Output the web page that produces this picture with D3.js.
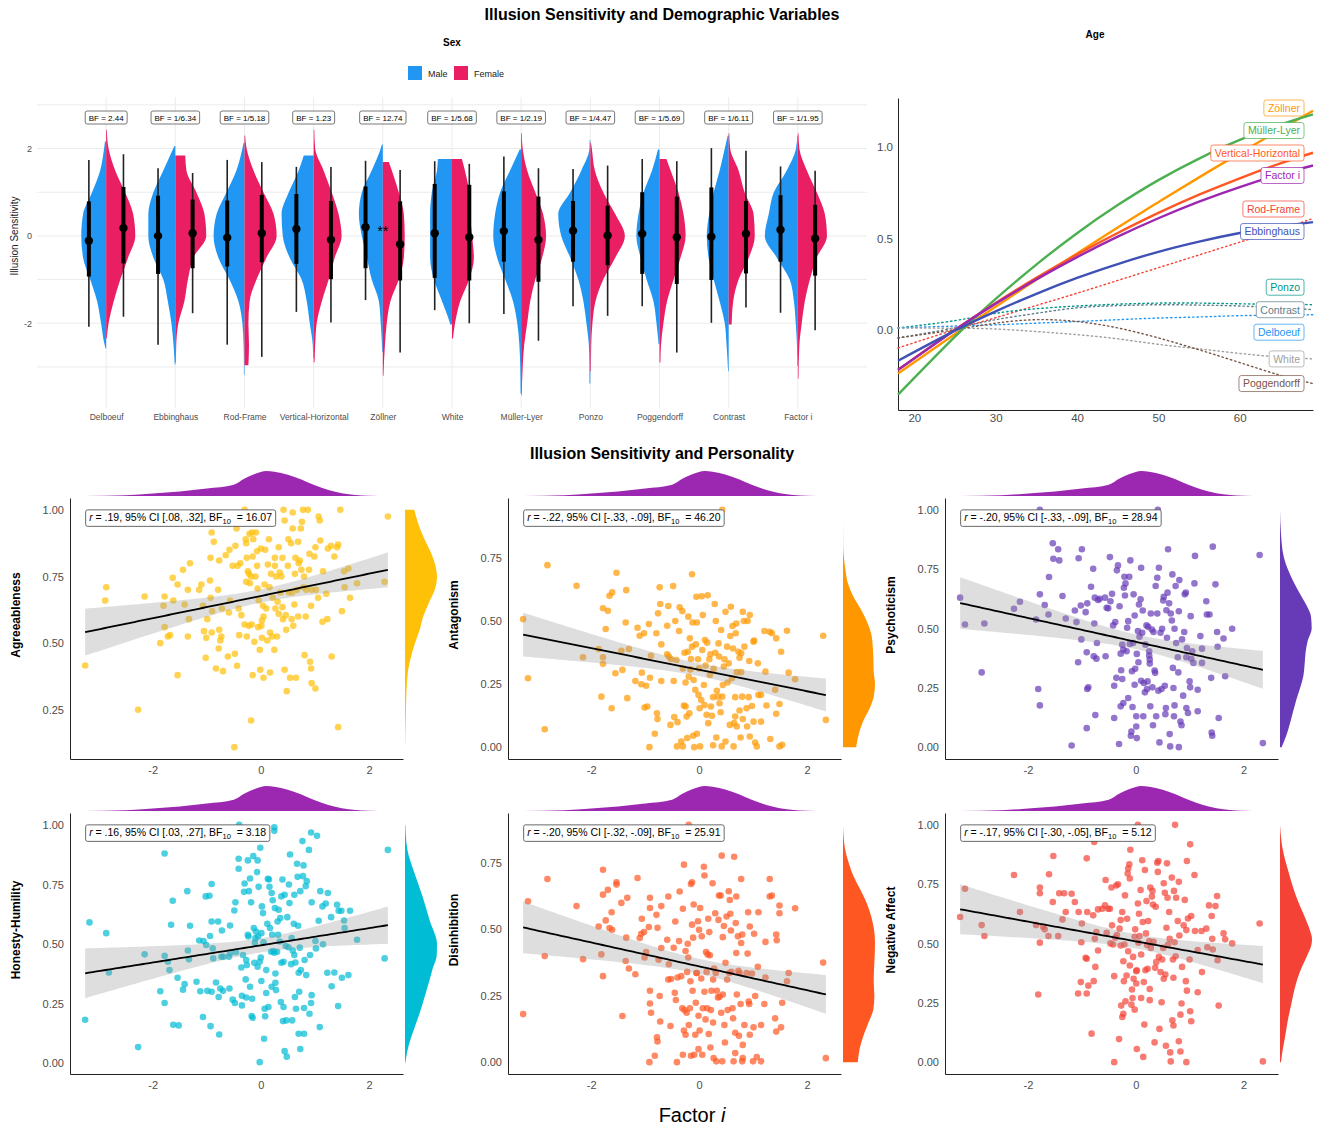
<!DOCTYPE html>
<html lang="en">
<head>
<meta charset="UTF-8">
<title>Illusion Sensitivity</title>
<style>
  body { margin: 0; background: #fff; font-family: "Liberation Sans", Arial, Helvetica, sans-serif; }
  svg { display: block; }
  text { font-family: "Liberation Sans", Arial, Helvetica, sans-serif; }
</style>
</head>
<body>
<svg id="chart" width="1324" height="1126"></svg>
<script src="https://cdn.jsdelivr.net/npm/d3@7"></script>
<script>
// ---------- data: sex differences ----------
const illusions = ['Delboeuf', 'Ebbinghaus', 'Rod-Frame', 'Vertical-Horizontal', 'Zöllner', 'White',
  'Müller-Lyer', 'Ponzo', 'Poggendorff', 'Contrast', 'Factor i'];
const bfLabels = ['BF = 2.44', 'BF = 1/6.34', 'BF = 1/5.18', 'BF = 1.23', 'BF = 12.74', 'BF = 1/5.68',
  'BF = 1/2.19', 'BF = 1/4.47', 'BF = 1/5.69', 'BF = 1/6.11', 'BF = 1/1.95'];
const significance = ['', '', '', '', '**', '', '', '', '', '', ''];

// [min, lower, mean, upper, max]
const maleRange = [
  [-2.08, -0.93, -0.11, 0.79, 1.74], [-2.49, -0.87, 0.0, 0.92, 1.55], [-2.49, -0.7, -0.04, 0.81, 1.74],
  [-1.74, -0.64, 0.16, 0.96, 1.58], [-1.47, -0.74, 0.2, 1.13, 1.72], [-1.7, -0.96, 0.06, 1.19, 1.71],
  [-1.79, -0.59, 0.11, 1.02, 1.82], [-1.61, -0.59, 0.12, 0.8, 1.53], [-1.61, -0.87, 0.05, 1.0, 1.76],
  [-1.99, -1.01, -0.02, 1.11, 2.01], [-1.76, -0.59, 0.14, 0.93, 1.59]];
const femaleRange = [
  [-1.85, -0.63, 0.18, 1.12, 1.87], [-1.77, -0.74, 0.06, 0.83, 1.44], [-2.77, -0.6, 0.06, 0.94, 1.69],
  [-1.98, -0.99, -0.09, 0.8, 1.58], [-2.67, -1.02, -0.19, 0.79, 1.51], [-2.0, -1.02, -0.03, 1.17, 1.65],
  [-2.4, -1.05, -0.09, 0.9, 1.55], [-1.83, -0.67, 0.01, 0.69, 1.61], [-2.67, -1.1, -0.03, 0.9, 1.71],
  [-1.64, -0.86, 0.05, 0.8, 1.95], [-2.16, -0.91, -0.06, 0.71, 1.49]];

// violin half densities: [score, relative density]
const maleDensity = [
  [[2.16,.04],[2,.07],[1.5,.2],[1,.47],[.5,.77],[0,.83],[-.5,.77],[-1,.53],[-1.5,.3],[-2,.17],[-2.5,.05],[-2.58,.02]],
  [[2.06,.03],[2,.07],[1.5,.4],[1,.73],[.5,.9],[0,.9],[-.5,.73],[-1,.4],[-1.5,.25],[-2,.13],[-2.5,.06],[-2.95,.02]],
  [[2.13,.03],[2,.07],[1.5,.27],[1,.6],[.5,.93],[0,1.03],[-.5,.87],[-1,.5],[-1.5,.2],[-2,.07],[-2.5,.03],[-3,.02],[-3.18,.02]],
  [[1.84,.33],[1.5,.5],[1,.83],[.5,1.07],[0,1.03],[-.5,.8],[-1,.4],[-1.5,.23],[-2,.13],[-2.5,.03],[-2.8,.02]],
  [[2.09,.03],[2,.07],[1.5,.37],[1,.7],[.5,.8],[0,.7],[-.5,.53],[-1,.37],[-1.5,.13],[-2,.07],[-2.66,.02]],
  [[1.76,.47],[1.5,.5],[1,.67],[.5,.73],[0,.73],[-.5,.73],[-1,.6],[-1.5,.33],[-2,.07],[-2.03,.06]],
  [[1.98,.05],[1.5,.37],[1,.7],[.5,.87],[0,.93],[-.5,.8],[-1,.53],[-1.5,.27],[-2,.13],[-2.5,.06],[-3,.03],[-3.6,.02]],
  [[2.2,.02],[2,.03],[1.5,.3],[1,.67],[.5,1.07],[0,.97],[-.5,.67],[-1,.4],[-1.5,.23],[-2,.13],[-2.5,.05],[-3,.03],[-3.38,.03]],
  [[1.98,.05],[1.5,.25],[1,.53],[.5,.7],[0,.77],[-.5,.63],[-1,.43],[-1.5,.2],[-2,.1],[-2.48,.03]],
  [[2.3,.03],[2,.13],[1.5,.3],[1,.5],[.5,.65],[0,.73],[-.5,.67],[-1,.5],[-1.5,.3],[-2,.13],[-2.5,.07],[-3.1,.02]],
  [[2.3,.02],[2,.06],[1.5,.37],[1,.8],[.5,.97],[0,1.1],[-.5,.7],[-1,.27],[-1.5,.13],[-2,.07],[-2.5,.03],[-2.97,.02]]];
const femaleDensity = [
  [[2.43,.02],[2,.08],[1.5,.3],[1,.63],[.5,.9],[0,.97],[-.5,.73],[-1,.47],[-1.5,.25],[-2,.08],[-2.35,.02]],
  [[1.84,.33],[1.5,.37],[1,.7],[.5,.97],[0,1.03],[-.5,.6],[-1,.42],[-1.5,.3],[-2,.1],[-2.5,.03],[-2.9,.02]],
  [[2.3,.02],[2,.07],[1.5,.3],[1,.63],[.5,.97],[0,1.07],[-.5,.73],[-1,.4],[-1.5,.17],[-2,.13],[-2.5,.15],[-2.96,.13]],
  [[2.43,.02],[2,.05],[1.5,.33],[1,.6],[.5,.83],[0,.93],[-.5,.7],[-1,.5],[-1.5,.27],[-2,.1],[-2.5,.05],[-2.89,.03]],
  [[1.69,.2],[1.5,.3],[1,.53],[.5,.7],[0,.73],[-.5,.7],[-1,.53],[-1.5,.25],[-2,.13],[-2.5,.07],[-3.2,.02]],
  [[1.76,.33],[1.5,.43],[1,.57],[.5,.6],[0,.67],[-.5,.73],[-1,.57],[-1.5,.27],[-2,.1],[-2.35,.03]],
  [[2.35,.02],[2,.05],[1.5,.2],[1,.47],[.5,.73],[0,.83],[-.5,.7],[-1,.47],[-1.5,.3],[-2,.2],[-2.5,.1],[-3,.05],[-3.65,.02]],
  [[2.14,.02],[2,.05],[1.5,.15],[1,.43],[.5,.83],[0,1.15],[-.5,.83],[-1,.43],[-1.5,.17],[-2,.07],[-2.5,.03],[-3.1,.02]],
  [[1.76,.23],[1.5,.37],[1,.63],[.5,.8],[0,.87],[-.5,.7],[-1,.47],[-1.5,.25],[-2,.13],[-2.5,.05],[-2.9,.03]],
  [[2.35,.02],[2,.05],[1.5,.33],[1,.53],[.5,.83],[0,.87],[-.5,.67],[-1,.33],[-1.5,.15],[-2.03,.1]],
  [[2.35,.02],[2,.05],[1.5,.3],[1,.63],[.5,.9],[0,.97],[-.5,.63],[-1,.4],[-1.5,.23],[-2,.13],[-2.5,.05],[-3.27,.02]]];

// ---------- data: age ----------
const ages = [18, 25, 30, 35, 40, 45, 50, 55, 60, 65, 69];
const ageIllusions = ['Zöllner', 'Müller-Lyer', 'Vertical-Horizontal', 'Factor i', 'Rod-Frame', 'Ebbinghaus',
  'Ponzo', 'Contrast', 'Delboeuf', 'White', 'Poggendorff'];
const ageColors = ['#FF9800', '#4CAF50', '#FF5722', '#9C27B0', '#F44336', '#3F51B5',
  '#009688', '#607D8B', '#2196F3', '#9E9E9E', '#795548'];
const ageSignificant = [true, true, true, true, false, true, false, false, false, false, false];
const ageEffects = [
  [-0.24, -0.024, 0.126, 0.274, 0.418, 0.56, 0.699, 0.835, 0.968, 1.098, 1.20],
  [-0.356, -0.038, 0.169, 0.357, 0.529, 0.683, 0.82, 0.938, 1.04, 1.124, 1.18],
  [-0.22, 0.0, 0.147, 0.284, 0.412, 0.53, 0.64, 0.74, 0.83, 0.912, 0.97],
  [-0.22, -0.001, 0.143, 0.276, 0.398, 0.51, 0.611, 0.702, 0.782, 0.852, 0.90],
  [-0.10, 0.0, 0.066, 0.133, 0.20, 0.27, 0.34, 0.41, 0.48, 0.55, 0.61],
  [-0.17, -0.005, 0.101, 0.197, 0.284, 0.36, 0.427, 0.483, 0.53, 0.567, 0.59],
  [0.01, 0.05, 0.09, 0.115, 0.13, 0.14, 0.146, 0.146, 0.142, 0.14, 0.137],
  [-0.045, 0.01, 0.055, 0.09, 0.12, 0.132, 0.137, 0.135, 0.13, 0.12, 0.11],
  [0.01, 0.02, 0.027, 0.036, 0.045, 0.055, 0.064, 0.07, 0.077, 0.08, 0.082],
  [0.01, 0.008, 0.004, -0.01, -0.027, -0.05, -0.08, -0.105, -0.13, -0.15, -0.16],
  [-0.045, 0.0, 0.036, 0.055, 0.045, 0.01, -0.045, -0.11, -0.18, -0.25, -0.295]];

// ---------- data: personality ----------
const traitNames = ['Agreeableness', 'Antagonism', 'Psychoticism', 'Honesty-Humility', 'Disinhibition', 'Negative Affect'];
const traitColors = ['#FFC107', '#FF9800', '#673AB7', '#00BCD4', '#FF5722', '#F44336'];
const rValues = ['.19', '-.22', '-.20', '.16', '-.20', '-.17'];
const ciValues = ['[.08, .32]', '[-.33, -.09]', '[-.33, -.09]', '[.03, .27]', '[-.32, -.09]', '[-.30, -.05]'];
const bfValues = ['16.07', '46.20', '28.94', '3.18', '25.91', '5.12'];

// factor i marginal density (same participants in every panel)
const factorDensity = [[-3.26,0],[-2.5,.03],[-2,.1],[-1.5,.18],[-1,.3],[-0.5,.45],[-0.3,.7],[0,.96],[0.1,1],[0.25,.97],
  [0.5,.85],[0.75,.66],[1,.43],[1.25,.24],[1.5,.11],[1.75,.04],[2,.01],[2.36,0]];

const agreeDensity = [[1.0,.29],[.95,.41],[.9,.57],[.85,.77],[.8,.93],[.75,1],[.7,.93],[.65,.74],[.6,.57],[.55,.46],[.5,.31],
  [.45,.19],[.4,.1],[.35,.06],[.3,.04],[.25,.03],[.2,.02],[.1,0]];
const antagDensity = [[.94,0],[.8,.005],[.75,.03],[.7,.08],[.65,.15],[.6,.31],[.55,.54],[.5,.74],[.45,.88],[.4,.93],
  [.35,.95],[.3,.96],[.25,1],[.2,.96],[.15,.82],[.1,.62],[.05,.49],[0,.41]];
const psychDensity = [[1,0],[.9,.03],[.8,.12],[.7,.41],[.65,.61],[.6,.82],[.55,.97],[.5,.99],[.45,.87],[.4,.8],[.35,.77],
  [.3,.73],[.25,.63],[.2,.51],[.15,.41],[.1,.31],[.05,.2],[0,.05]];
const honestyDensity = [[1,.01],[.9,.07],[.8,.29],[.7,.55],[.6,.77],[.5,1],[.45,.99],[.4,.87],[.35,.77],[.3,.66],[.25,.55],
  [.2,.43],[.15,.3],[.1,.17],[.05,.07],[0,.01]];
const disinhDensity = [[.89,0],[.8,.07],[.75,.18],[.7,.33],[.65,.54],[.6,.74],[.55,.88],[.5,.97],[.45,1],[.4,.99],[.35,.97],
  [.3,.96],[.25,.98],[.2,.95],[.15,.8],[.1,.64],[.05,.52],[0,.46]];
const negaffDensity = [[1,0],[.9,.08],[.8,.27],[.7,.5],[.6,.81],[.55,.95],[.52,1],[.5,.99],[.45,.85],[.4,.68],[.35,.54],
  [.3,.44],[.25,.36],[.2,.28],[.15,.21],[.1,.15],[.05,.08],[0,.03]];

// [factor i, trait score]
const agreeableness = [[-3.25,.416],[-2.86,.71],[-2.88,.66],[-2.27,.25],[-2.15,.675],[-1.86,.50],[-1.80,.64],[-1.78,.675],
  [-1.78,.56],[-1.72,.525],[-1.68,.53],[-1.63,.745],[-1.62,.66],[-1.54,.72],[-1.54,.38],[-1.44,.775],[-1.41,.645],[-1.35,.70],
  [-1.33,.59],[-1.31,.80],[-1.35,.525],[-1.14,.70],[-1.10,.72],[-1.07,.64],[-1.05,.545],[-1.01,.52],[-1.02,.445],[-.99,.59],
  [-.94,.735],[-.93,.67],[-.93,.82],[-.91,.915],[-.90,.62],[-.91,.54],[-.87,.88],[-.83,.405],[-.79,.70],[-.78,.48],[-.77,.81],
  [-.77,.55],[-.75,.51],[-.73,.525],[-.70,.395],[-.72,.63],[-.61,.45],[-.59,.615],[-.58,.85],[-.57,.66],[-.52,.79],[-.48,.46],
  [-.49,.11],[-.47,.865],[-.45,.93],[-.44,.415],[-.43,.79],[-.41,.63],[-.40,.53],[-.38,.80],[-.36,.605],[-.33,.95],[-.30,1.0],
  [-.30,.57],[-.28,.89],[-.27,.875],[-.27,.73],[-.26,.82],[-.26,.525],[-.24,.77],[-.22,.565],[-.22,.76],[-.21,.91],[-.20,.725],
  [-.18,.75],[-.17,.57],[-.16,.915],[-.15,.38],[-.15,.825],[-.14,.89],[-.12,.505],[-.10,.75],[-.09,.915],[-.07,.845],[-.07,.79],
  [-.06,.705],[-.04,.66],[-.02,.475],[-.01,.40],[0,.855],[.01,.565],[.02,.585],[.02,.52],[.04,.64],[.05,.37],[.07,.72],[.08,.85],
  [.10,.63],[.12,.51],[.13,.795],[.15,.89],[.16,.71],[.17,.39],[.17,.54],[.19,.76],[.21,.525],[.22,.67],[.25,.475],[.26,.79],
  [.26,.82],[.27,.63],[.28,.75],[.30,.525],[.31,.655],[.33,.61],[.35,.765],[.36,.69],[.38,.75],[.40,.635],[.40,.82],[.41,.59],
  [.42,1.0],[.44,.96],[.44,.40],[.46,.605],[.47,.55],[.48,.32],[.50,.79],[.51,.89],[.52,.69],[.54,.37],[.56,.875],[.57,.59],
  [.58,.69],[.59,.99],[.59,.93],[.60,.565],[.62,.645],[.63,.76],[.64,.82],[.65,.37],[.67,.70],[.69,.88],[.69,.60],[.70,.80],
  [.72,.81],[.74,.93],[.75,.775],[.76,.955],[.78,1.0],[.79,.71],[.80,.75],[.81,.455],[.83,.60],[.84,.70],[.87,1.0],[.89,.775],
  [.90,.835],[.91,.43],[.93,.64],[.93,.405],[.94,.35],[.94,.70],[.99,.825],[1.01,.86],[1.01,.33],[1.02,.70],[1.06,.67],
  [1.07,.975],[1.09,.96],[1.10,.885],[1.14,.58],[1.15,.77],[1.21,.685],[1.23,.59],[1.24,.855],[1.30,.865],[1.31,.45],
  [1.36,.825],[1.41,.86],[1.43,.87],[1.43,.185],[1.47,1.0],[1.50,.62],[1.54,.77],[1.55,.71],[1.62,.78],[1.65,.67],[1.78,.725],
  [2.29,.73],[2.35,.975],[-.18,.21],[-.65,.83],[.05,.60],[.33,.86],[-.05,.56]];
const antagonism = [[-3.26,.507],[-3.17,.273],[-2.86,.071],[-2.81,.721],[-2.27,.639],[-2.15,.356],[-1.86,.389],[-1.81,.20],
  [-1.78,.55],[-1.78,.356],[-1.78,.33],[-1.73,.468],[-1.69,.54],[-1.66,.60],[-1.61,.613],[-1.62,.154],[-1.55,.293],[-1.53,.691],
  [-1.44,.382],[-1.42,.306],[-1.36,.494],[-1.35,.622],[-1.33,.194],[-1.30,.389],[-1.18,.262],[-1.14,.473],[-1.10,.441],
  [-1.07,.249],[-1.06,.295],[-1.02,.451],[-1.01,.157],[-.98,.243],[-.96,.161],[-.93,.488],[-.91,.275],[-.92,0],[-.89,.362],
  [-.82,.053],[-.79,.451],[-.78,.134],[-.77,.111],[-.76,.53],[-.73,.633],[-.72,.567],[-.70,.407],[-.70,.262],[-.59,.368],
  [-.59,.481],[-.57,.559],[-.56,.359],[-.53,.088],[-.52,.349],[-.48,.638],[-.47,.262],[-.46,.119],[-.44,.50],[-.42,.345],
  [-.41,.003],[-.40,.099],[-.37,.46],[-.36,.554],[-.33,.022],[-.31,.539],[-.30,.312],[-.30,.003],[-.28,.165],[-.27,.374],
  [-.25,.256],[-.25,.161],[-.23,.121],[-.22,.036],[-.21,.378],[-.20,.517],[-.19,.279],[-.18,.134],[-.17,.431],[-.16,.308],
  [-.15,.349],[-.13,.685],[-.13,.398],[-.12,.494],[-.11,.045],[-.10,.266],[-.09,0],[-.07,.227],[-.06,.407],[-.05,.596],
  [-.04,.053],[-.04,.494],[-.02,.348],[-.01,.207],[0,.312],[.01,.154],[.02,.003],[.04,.187],[.05,.598],[.06,.385],[.07,.523],
  [.09,.246],[.10,.167],[.11,.424],[.12,.323],[.14,.128],[.15,.414],[.16,.602],[.17,.095],[.19,.348],[.20,.286],[.21,.368],
  [.22,.161],[.24,.124],[.26,.007],[.26,.198],[.27,.31],[.29,.567],[.30,.374],[.31,.50],[.32,.038],[.33,.223],[.35,.20],
  [.36,.411],[.37,.359],[.38,.174],[.40,.138],[.41,.464],[.42,.003],[.43,.20],[.44,.246],[.46,.319],[.47,.348],[.49,.536],
  [.49,.022],[.52,.398],[.53,.256],[.55,.332],[.57,.088],[.58,.44],[.59,.556],[.61,.273],[.62,.48],[.63,.391],[.64,.003],
  [.65,.095],[.67,.121],[.67,.198],[.68,.451],[.69,.49],[.70,.082],[.70,.297],[.73,.378],[.75,.354],[.75,.145],[.77,.038],
  [.78,.372],[.78,.297],[.80,.20],[.81,.111],[.81,.536],[.83,.50],[.84,.398],[.88,.154],[.89,.082],[.90,.50],[.92,.198],
  [.93,.341],[.94,.523],[.94,.042],[.98,.163],[1.01,.418],[1.01,.101],[1.02,.422],[1.04,.018],[1.07,.003],[1.09,.332],
  [1.10,.207],[1.15,.101],[1.15,.207],[1.21,.46],[1.23,.299],[1.25,.165],[1.31,.457],[1.32,.032],[1.35,.451],[1.41,.227],
  [1.43,.132],[1.43,.431],[1.49,.003],[1.49,.171],[1.52,.378],[1.54,.009],[1.63,.461],[1.66,.295],[1.78,.269],[2.30,.441],
  [2.35,.108],[.43,.94]];
const psychoticism = [[-3.26,.63],[-3.17,.517],[-2.86,.315],[-2.81,.521],[-2.26,.583],[-2.15,.613],[-1.85,.538],[-1.81,.245],
  [-1.78,.176],[-1.78,.644],[-1.78,1.0],[-1.69,.599],[-1.62,.559],[-1.61,.717],[-1.54,.859],[-1.53,.794],[-1.44,.834],
  [-1.42,.787],[-1.36,.637],[-1.30,.542],[-1.19,.007],[-1.13,.576],[-1.10,.527],[-1.07,.358],[-1.06,.796],[-1.02,.597],
  [-1.01,.454],[-1.00,.834],[-.93,.569],[-.91,.40],[-.91,.08],[-.90,.606],[-.90,.245],[-.88,.252],[-.83,.676],[-.79,.752],
  [-.78,.383],[-.77,.521],[-.76,.63],[-.75,.135],[-.73,.373],[-.72,.439],[-.70,.62],[-.67,.625],[-.57,.63],[-.56,.383],
  [-.54,.587],[-.51,.585],[-.48,.801],[-.47,.615],[-.44,.646],[-.42,.513],[-.40,.259],[-.40,.123],[-.38,.527],[-.36,.292],
  [-.35,.745],[-.33,.766],[-.31,.013],[-.30,.594],[-.28,.172],[-.28,.394],[-.27,.324],[-.25,.432],[-.25,.287],[-.23,.186],
  [-.23,.411],[-.22,.672],[-.21,.718],[-.20,.639],[-.19,.69],[-.17,.404],[-.16,.503],[-.14,.207],[-.14,.531],[-.12,.718],
  [-.11,.435],[-.10,.787],[-.09,.048],[-.08,.066],[-.07,.32],[-.06,.169],[-.05,.439],[-.04,.644],[-.02,.263],[-.02,.555],
  [-.01,.33],[.01,.087],[.01,.13],[.02,.038],[.02,.393],[.04,.489],[.05,.358],[.06,.601],[.07,.465],[.09,.623],[.10,.28],
  [.10,.756],[.12,.482],[.13,.576],[.14,.13],[.15,.27],[.17,.231],[.18,.432],[.20,.513],[.21,.245],[.22,.277],[.23,.507],
  [.25,.404],[.25,.386],[.26,.369],[.26,.352],[.27,.172],[.28,.563],[.30,.496],[.31,.252],[.32,.092],[.33,.485],[.35,.323],
  [.36,.313],[.37,.679],[.38,.13],[.40,.563],[.40,.714],[.41,1.0],[.42,.238],[.43,.756],[.44,.02],[.46,.482],[.48,.245],
  [.49,.499],[.51,.618],[.52,.634],[.54,.259],[.55,.139],[.56,.165],[.57,.577],[.58,.461],[.59,.651],[.60,.834],[.62,.606],
  [.63,.055],[.64,.003],[.65,.563],[.67,.534],[.68,.728],[.69,.334],[.70,.249],[.71,.13],[.72,.499],[.72,.176],[.74,.679],
  [.75,.439],[.78,.379],[.79,.315],[.80,0],[.80,.573],[.81,.704],[.83,.108],[.85,.092],[.86,.454],[.88,.217],[.90,.485],
  [.91,.644],[.93,.651],[.94,.379],[.94,.165],[.95,.418],[.97,.144],[1.00,.277],[1.01,.252],[1.02,.552],[1.03,.372],
  [1.05,.404],[1.07,.355],[1.09,.69],[1.10,.806],[1.15,.242],[1.15,.151],[1.20,.468],[1.23,.415],[1.23,.355],[1.31,.615],
  [1.32,.559],[1.37,.559],[1.40,.292],[1.41,.062],[1.42,.048],[1.43,.845],[1.48,.686],[1.51,.485],[1.52,.423],[1.54,.123],
  [1.63,.458],[1.66,.299],[1.79,.499],[2.30,.81],[2.36,.017]];
const honestyHumility = [[-3.25,.183],[-3.17,.591],[-2.86,.546],[-2.81,.381],[-2.27,.068],[-2.15,.457],[-1.86,.302],[-1.78,.451],
  [-1.78,.88],[-1.78,.253],[-1.72,.426],[-1.69,.391],[-1.66,.581],[-1.63,.682],[-1.62,.162],[-1.54,.359],[-1.52,.159],
  [-1.44,.309],[-1.41,.332],[-1.36,.722],[-1.35,.473],[-1.33,.436],[-1.31,.577],[-1.19,.342],[-1.14,.515],[-1.12,.302],
  [-1.07,.194],[-1.06,.513],[-1.02,.70],[-1.01,.496],[-.99,.304],[-.95,.703],[-.94,.534],[-.93,.156],[-.91,.595],[-.91,.30],
  [-.91,.752],[-.89,.482],[-.88,.44],[-.83,.339],[-.79,.595],[-.78,.278],[-.77,.121],[-.75,.314],[-.73,.447],[-.72,.557],
  [-.70,.304],[-.69,.447],[-.59,.447],[-.58,.314],[-.57,.578],[-.57,.461],[-.52,.267],[-.49,.641],[-.48,.253],[-.47,.675],
  [-.46,.466],[-.41,.858],[-.41,.816],[-.40,1.0],[-.36,.402],[-.35,.243],[-.35,.283],[-.33,.454],[-.31,.719],[-.30,.754],
  [-.28,.352],[-.27,.433],[-.27,.276],[-.26,.412],[-.24,.539],[-.24,.851],[-.23,.532],[-.22,.722],[-.20,.775],[-.20,.321],
  [-.18,.675],[-.17,.198],[-.16,.271],[-.15,.191],[-.14,.869],[-.13,.567],[-.12,.422],[-.11,.506],[-.10,.525],[-.09,.553],
  [-.07,.802],[-.06,.851],[-.06,.405],[-.05,.532],[-.04,.74],[-.02,.005],[-.02,.426],[-.01,.904],[0,.444],[.01,.345],[.01,.546],
  [.02,.658],[.04,.63],[.05,.508],[.06,.103],[.07,.229],[.08,.197],[.10,.391],[.10,.295],[.12,.585],[.13,.774],[.14,.236],
  [.15,.771],[.16,.74],[.17,.567],[.19,.468],[.20,.321],[.20,.714],[.21,.539],[.22,.684],[.23,.471],[.25,.464],[.26,.651],
  [.27,.377],[.27,.338],[.28,.307],[.30,.468],[.31,.595],[.32,.539],[.33,.644],[.35,.511],[.36,.609],[.37,.257],[.38,.70],
  [.38,.422],[.40,.771],[.41,.177],[.42,.236],[.42,.426],[.44,.707],[.44,.051],[.46,.492],[.47,.18],[.48,.028],[.49,.613],
  [.51,.487],[.52,.75],[.53,.672],[.54,.876],[.56,.416],[.57,.525],[.58,.18],[.59,.473],[.61,.585],[.62,.707],[.62,.454],
  [.63,.278],[.64,.423],[.65,.229],[.67,.837],[.68,.782],[.69,.577],[.70,.38],[.70,.124],[.71,.30],[.72,.485],[.73,.722],
  [.73,.06],[.74,.391],[.77,.932],[.78,.785],[.79,.83],[.80,.124],[.80,.232],[.81,.433],[.83,.743],[.84,.37],[.85,.764],
  [.89,.895],[.90,.208],[.91,.454],[.93,.253],[.93,.968],[.94,.286],[.94,.675],[1.01,.513],[1.02,.482],[1.04,.954],[1.07,.598],
  [1.09,.152],[1.10,.722],[1.14,.658],[1.15,.499],[1.20,.67],[1.23,.38],[1.24,.714],[1.30,.613],[1.31,.323],[1.36,.381],
  [1.41,.665],[1.43,.24],[1.44,.64],[1.49,.64],[1.50,.359],[1.54,.599],[1.55,.567],[1.62,.37],[1.65,.64],[1.78,.518],
  [2.29,.44],[2.35,.895],[.25,.99],[.25,.975]];
const disinhibition = [[-3.26,.181],[-3.17,.606],[-2.86,.40],[-2.81,.69],[-2.27,.588],[-2.15,.388],[-1.86,.511],[-1.81,.406],
  [-1.78,.725],[-1.78,.631],[-1.78,.324],[-1.73,.534],[-1.69,.649],[-1.66,.505],[-1.61,.499],[-1.62,.565],[-1.53,.678],
  [-1.53,.669],[-1.44,.60],[-1.42,.174],[-1.36,.381],[-1.35,.469],[-1.33,.619],[-1.30,.353],[-1.18,.331],[-1.14,.694],
  [-1.10,.468],[-1.07,.484],[-1.06,.54],[-1.02,.49],[-1.01,.394],[-.98,.415],[-.93,.509],[-.91,.269],[-.91,.221],[-.92,0],
  [-.91,.581],[-.91,.619],[-.89,.186],[-.82,.024],[-.79,.555],[-.78,.094],[-.77,.078],[-.77,.506],[-.75,.386],[-.73,.249],
  [-.72,.153],[-.70,.588],[-.70,.43],[-.59,.461],[-.57,.624],[-.57,.311],[-.56,.369],[-.53,.136],[-.52,.313],[-.47,.431],
  [-.45,.261],[-.44,.53],[-.43,.234],[-.41,0],[-.40,.319],[-.37,.456],[-.36,.643],[-.33,.324],[-.31,.203],[-.30,.578],
  [-.30,.028],[-.28,.744],[-.28,.119],[-.27,.196],[-.25,.419],[-.25,.103],[-.23,.186],[-.22,.34],[-.21,.446],[-.20,.394],
  [-.19,.14],[-.17,.203],[-.16,.305],[-.15,.671],[-.15,.024],[-.13,.678],[-.13,.518],[-.12,.269],[-.11,.469],[-.10,.594],
  [-.09,.028],[-.07,.103],[-.06,.224],[-.05,.336],[-.04,.336],[-.02,.531],[-.01,.049],[-.01,.175],[0,.499],[.01,.119],
  [.02,.581],[.04,.315],[.05,.474],[.06,.028],[.07,.203],[.09,.736],[.10,.703],[.10,.265],[.12,.161],[.13,.415],[.14,.34],
  [.15,.203],[.16,.406],[.17,.54],[.18,.106],[.19,.49],[.20,.403],[.21,.055],[.22,.196],[.23,.269],[.25,.674],[.26,.311],
  [.26,.149],[.27,.015],[.28,.353],[.30,.561],[.31,.336],[.32,.003],[.33,.269],[.35,.244],[.36,.536],[.37,.628],[.38,.246],
  [.40,.628],[.41,.186],[.42,.778],[.43,.003],[.44,.255],[.44,.471],[.46,.513],[.47,.14],[.48,.074],[.49,.374],[.51,.549],
  [.52,.311],[.53,.196],[.55,.644],[.56,.336],[.57,.611],[.58,.559],[.59,.496],[.60,.34],[.62,.203],[.63,.165],[.64,.003],
  [.65,.774],[.67,.111],[.67,.034],[.68,.524],[.69,.411],[.69,.624],[.70,.255],[.72,.474],[.73,.344],[.74,.099],[.75,.336],
  [.77,.219],[.78,.69],[.78,.449],[.80,.003],[.80,.481],[.81,.015],[.81,.065],[.84,.14],[.88,.336],[.90,.409],[.91,.565],
  [.92,.228],[.93,.219],[.94,.103],[.94,.511],[.98,.334],[1.00,.003],[1.01,.131],[1.02,.484],[1.04,.249],[1.07,.019],
  [1.09,.359],[1.10,.565],[1.15,.003],[1.15,.14],[1.21,.219],[1.23,.453],[1.23,.319],[1.31,.69],[1.31,.624],[1.35,.628],
  [1.41,.165],[1.43,.115],[1.43,.481],[1.44,.459],[1.49,.561],[1.49,.59],[1.52,.131],[1.54,.224],[1.63,.305],[1.66,.336],
  [1.78,.58],[2.30,.375],[2.35,.015],[-.19,.894]];
const negativeAffect = [[-3.26,.612],[-3.17,.731],[-2.86,.578],[-2.81,.532],[-2.26,.789],[-2.15,.633],[-1.85,.578],[-1.81,.286],
  [-1.78,.736],[-1.78,.712],[-1.78,.504],[-1.72,.571],[-1.69,.56],[-1.61,.792],[-1.62,.532],[-1.54,.675],[-1.53,.869],
  [-1.44,.532],[-1.42,.712],[-1.36,.602],[-1.33,.712],[-1.30,.633],[-1.19,.71],[-1.13,.675],[-1.07,.29],[-1.06,.633],
  [-1.02,.338],[-1.01,.506],[-1.00,.585],[-.93,.44],[-.91,.859],[-.91,.29],[-.91,.436],[-.90,.633],[-.88,.323],[-.82,.121],
  [-.79,.619],[-.78,.342],[-.77,.928],[-.76,.52],[-.75,.402],[-.73,.549],[-.70,.471],[-.70,.644],[-.62,.647],[-.57,.661],
  [-.56,.768],[-.54,.546],[-.51,.647],[-.48,.647],[-.47,.501],[-.45,.736],[-.44,.577],[-.42,.496],[-.40,.363],[-.40,.001],
  [-.38,.525],[-.36,.745],[-.35,.536],[-.33,.75],[-.31,.098],[-.30,.563],[-.28,.599],[-.28,.492],[-.27,.239],[-.25,.633],
  [-.25,.191],[-.23,.205],[-.23,.426],[-.22,.342],[-.21,.496],[-.20,.703],[-.19,.257],[-.17,.366],[-.16,.605],[-.15,.795],
  [-.14,.468],[-.14,.816],[-.12,.834],[-.11,.774],[-.11,.408],[-.10,.895],[-.08,.243],[-.07,.307],[-.06,.271],[-.05,.444],
  [-.04,.352],[-.02,.529],[-.02,.222],[-.01,.56],[.01,.384],[.01,.332],[.02,.056],[.02,.388],[.04,.669],[.05,.504],[.06,.626],
  [.07,.532],[.09,.726],[.10,.271],[.10,.454],[.12,.851],[.13,.591],[.14,.023],[.15,.338],[.16,.159],[.17,.81],[.18,.388],
  [.19,.543],[.20,.679],[.21,.494],[.22,.394],[.23,.595],[.25,.511],[.26,.262],[.26,.309],[.27,.736],[.28,.482],[.30,.698],
  [.31,.722],[.32,.665],[.33,.508],[.35,.084],[.36,.398],[.37,.655],[.38,.422],[.40,.841],[.41,.802],[.42,.848],[.43,.444],
  [.44,.141],[.46,.38],[.48,.253],[.49,.433],[.51,.482],[.52,.754],[.52,.352],[.54,.714],[.55,.37],[.56,.07],[.57,.567],
  [.58,.838],[.59,.693],[.60,.496],[.62,.633],[.63,.52],[.64,.042],[.65,.004],[.67,.778],[.68,.177],[.69,.433],[.70,.356],
  [.70,.155],[.71,.722],[.72,.506],[.73,1.0],[.74,.447],[.75,.693],[.78,.595],[.80,.76],[.80,.089],[.81,.534],[.83,.201],
  [.83,.046],[.85,.248],[.86,.402],[.89,.577],[.91,.684],[.93,.342],[.94,.001],[.94,.557],[.95,.302],[.95,.848],[.97,.606],
  [1.00,.433],[1.01,.215],[1.01,.918],[1.03,.173],[1.03,.616],[1.09,.789],[1.10,.553],[1.15,.473],[1.15,.295],[1.22,.553],
  [1.23,.38],[1.31,.563],[1.33,.485],[1.36,.661],[1.41,.616],[1.42,.52],[1.43,.475],[1.48,.658],[1.51,.70],[1.52,.43],
  [1.54,.239],[1.63,.543],[1.66,.518],[1.79,.501],[2.30,.585],[2.36,.004],[.04,1.0]];

const traitPoints = [agreeableness, antagonism, psychoticism, honestyHumility, disinhibition, negativeAffect];
const traitDensities = [agreeDensity, antagDensity, psychDensity, honestyDensity, disinhDensity, negaffDensity];

// ---------- drawing ----------
const svg = d3.select('#chart');
const grey = '#4d4d4d';
const maleColor = '#2196F3', femaleColor = '#E91E63';
const plainNum = d => String(d);   // R prints "-2", not "−2.0"

function title(txt, x, y, size) {
  svg.append('text').attr('x', x).attr('y', y).attr('text-anchor', 'middle')
    .attr('font-weight', 'bold').attr('font-size', size).attr('fill', '#000').text(txt);
}

title('Illusion Sensitivity and Demographic Variables', 662, 20, 16);

// --- sex panel ---
const vx = d3.scalePoint().domain(illusions).range([37, 867]).padding(1);
const vy = d3.scaleLinear().domain([-3.94, 3.18]).range([408, 97]);
const vw = d3.scaleLinear().domain([0, 1]).range([0, 30]);
const sexG = svg.append('g');

sexG.append('g').selectAll('line').data(d3.range(-3, 4)).join('line')
  .attr('x1', 37).attr('x2', 867).attr('y1', d => vy(d)).attr('y2', d => vy(d))
  .attr('stroke', '#ebebeb').attr('stroke-width', 1);
sexG.append('g').selectAll('line').data(illusions).join('line')
  .attr('x1', d => vx(d)).attr('x2', d => vx(d)).attr('y1', 97).attr('y2', 408)
  .attr('stroke', '#ebebeb').attr('stroke-width', 1);

const yAxisV = sexG.append('g').attr('transform', 'translate(37,0)')
  .call(d3.axisLeft(vy).tickValues([-2, 0, 2]).tickFormat(plainNum).tickSize(0).tickPadding(5));
yAxisV.select('.domain').remove();
yAxisV.selectAll('text').attr('font-size', 9).attr('fill', grey);

const xAxisV = sexG.append('g').attr('transform', 'translate(0,411)')
  .call(d3.axisBottom(vx).tickSize(0).tickPadding(3));
xAxisV.select('.domain').remove();
xAxisV.selectAll('text').attr('font-size', 8.5).attr('fill', grey);

sexG.append('text').attr('transform', 'translate(18,236) rotate(-90)').attr('text-anchor', 'middle')
  .attr('font-size', 10).attr('fill', '#222').text('Illusion Sensitivity');

illusions.forEach((name, i) => {
  const cx = vx(name);
  const maleArea = d3.area().curve(d3.curveMonotoneY)
    .y(d => vy(d[0])).x0(cx).x1(d => cx - vw(d[1]));
  const femaleArea = d3.area().curve(d3.curveMonotoneY)
    .y(d => vy(d[0])).x0(cx).x1(d => cx + vw(d[1]));
  sexG.append('path').attr('d', maleArea(maleDensity[i])).attr('fill', maleColor);
  sexG.append('path').attr('d', femaleArea(femaleDensity[i])).attr('fill', femaleColor);

  const off = vx.step() * 0.25;
  [[maleRange[i], cx - off], [femaleRange[i], cx + off]].forEach(([r, px]) => {
    sexG.append('line').attr('x1', px).attr('x2', px).attr('y1', vy(r[0])).attr('y2', vy(r[4]))
      .attr('stroke', '#222').attr('stroke-width', 1.6);
    sexG.append('line').attr('x1', px).attr('x2', px).attr('y1', vy(r[1])).attr('y2', vy(r[3]))
      .attr('stroke', '#000').attr('stroke-width', 4);
    sexG.append('circle').attr('cx', px).attr('cy', vy(r[2])).attr('r', 4.2).attr('fill', '#000');
  });

  if (significance[i]) {
    sexG.append('text').attr('x', cx).attr('y', vy(0.15) + 7).attr('text-anchor', 'middle')
      .attr('font-size', 14).attr('fill', '#000').text(significance[i]);
  }

  const bt = sexG.append('text').attr('x', cx).attr('y', 121).attr('text-anchor', 'middle')
    .attr('font-size', 8).attr('fill', '#000').text(bfLabels[i]);
  const tw = bt.node().getComputedTextLength();
  sexG.insert('rect', () => bt.node()).attr('x', cx - tw / 2 - 3.5).attr('y', 111).attr('width', tw + 7).attr('height', 13)
    .attr('rx', 2).attr('fill', '#fff').attr('stroke', '#555').attr('stroke-width', 0.8);
});

// legend
sexG.append('text').attr('x', 452).attr('y', 46).attr('text-anchor', 'middle').attr('font-weight', 'bold')
  .attr('font-size', 10).text('Sex');
[['Male', maleColor, 408], ['Female', femaleColor, 454]].forEach(([lab, col, x]) => {
  sexG.append('rect').attr('x', x).attr('y', 66).attr('width', 14).attr('height', 14).attr('fill', col);
  sexG.append('text').attr('x', x + 20).attr('y', 76.5).attr('font-size', 9).attr('fill', '#222').text(lab);
});

// --- age panel ---
const ax = d3.scaleLinear().domain([18, 69]).range([898, 1313]);
const ay = d3.scaleLinear().domain([-0.44, 1.27]).range([410, 98]);
const ageG = svg.append('g');
title('Age', 1095, 38, 10);

const ageX = ageG.append('g').attr('transform', 'translate(0,410)')
  .call(d3.axisBottom(ax).tickValues([20, 30, 40, 50, 60]).tickSize(0).tickPadding(4));
const ageY = ageG.append('g').attr('transform', 'translate(898,0)')
  .call(d3.axisLeft(ay).tickValues([0, 0.5, 1]).tickFormat(d3.format('.1f')).tickSize(0).tickPadding(5));
[ageX, ageY].forEach(a => {
  a.select('.domain').attr('stroke', '#222').attr('stroke-width', 1);
  a.selectAll('text').attr('font-size', 11.5).attr('fill', grey);
});

const ageLine = d3.line().curve(d3.curveNatural).x((d, k) => ax(ages[k])).y(d => ay(d));
const ageOrder = d3.range(ageIllusions.length).sort((a, b) => ageSignificant[a] - ageSignificant[b]);
ageOrder.forEach(i => {
  ageG.append('path').attr('d', ageLine(ageEffects[i])).attr('fill', 'none')
    .attr('stroke', ageColors[i])
    .attr('stroke-width', ageSignificant[i] ? 2.4 : 1.4)
    .attr('stroke-dasharray', ageSignificant[i] ? null : '1.4,3')
    .attr('stroke-linecap', ageSignificant[i] ? 'butt' : 'round');
});

// end labels, pushed apart so they do not overlap and kept inside the panel
const labels = ageIllusions.map((name, i) => ({ name, color: ageColors[i], y: ay(ageEffects[i][ages.length - 1]) }))
  .sort((a, b) => a.y - b.y);
const gap = 22.5, yMin = ay.range()[1] + 10, yMax = ay.range()[0] - 12;
for (let it = 0; it < 400; it++) {
  for (let k = 1; k < labels.length; k++) {
    const d = labels[k].y - labels[k - 1].y;
    if (d < gap) {
      const m = (gap - d) / 2;
      labels[k - 1].y -= m;
      labels[k].y += m;
    }
  }
  labels.forEach(l => { l.y = Math.max(yMin, Math.min(yMax, l.y)); });
}
labels.forEach(l => {
  const t = ageG.append('text').attr('x', 1300).attr('y', l.y + 3.8).attr('text-anchor', 'end')
    .attr('font-size', 10.5).attr('fill', l.color).text(l.name);
  const w = t.node().getComputedTextLength();
  ageG.insert('rect', () => t.node()).attr('x', 1300 - w - 4).attr('y', l.y - 8).attr('width', w + 8).attr('height', 16)
    .attr('rx', 2.5).attr('fill', '#fff').attr('stroke', l.color).attr('stroke-opacity', 0.7).attr('stroke-width', 1);
});

// --- personality panels ---
title('Illusion Sensitivity and Personality', 662, 459, 16);

const colLeft = [70, 508, 945];
const rowTop = [498, 813];
const panelW = 333, panelH = 261;

traitNames.forEach((name, i) => {
  const pts = traitPoints[i];
  const left = colLeft[i % 3], top = rowTop[Math.floor(i / 3)];
  const g = svg.append('g');

  const xExt = d3.extent(pts, d => d[0]);
  const yExt = d3.extent(pts, d => d[1]);
  const xPad = (xExt[1] - xExt[0]) * 0.05, yPad = (yExt[1] - yExt[0]) * 0.05;
  const x = d3.scaleLinear().domain([xExt[0] - xPad, xExt[1] + xPad]).range([left, left + panelW]);
  const y = d3.scaleLinear().domain([yExt[0] - yPad, yExt[1] + yPad]).range([top + panelH, top]);

  const yTicks = [0, 0.25, 0.5, 0.75, 1].filter(v => v >= y.domain()[0] && v <= y.domain()[1]);
  const xa = g.append('g').attr('transform', `translate(0,${top + panelH})`)
    .call(d3.axisBottom(x).tickValues([-2, 0, 2]).tickFormat(plainNum).tickSize(0).tickPadding(7));
  const ya = g.append('g').attr('transform', `translate(${left},0)`)
    .call(d3.axisLeft(y).tickValues(yTicks).tickFormat(d3.format('.2f')).tickSize(0).tickPadding(6));
  [xa, ya].forEach(a => {
    a.select('.domain').attr('stroke', '#222').attr('stroke-width', 1);
    a.selectAll('text').attr('font-size', 11).attr('fill', grey);
  });

  g.append('text').attr('transform', `translate(${left - 50},${top + 117}) rotate(-90)`)
    .attr('text-anchor', 'middle').attr('font-weight', 'bold').attr('font-size', 12).attr('fill', '#000').text(name);

  g.append('g').selectAll('circle').data(pts).join('circle')
    .attr('cx', d => x(d[0])).attr('cy', d => y(d[1])).attr('r', 3.3)
    .attr('fill', traitColors[i]).attr('fill-opacity', 0.7);

  // linear fit with 95% band
  const n = pts.length;
  const mx = d3.mean(pts, d => d[0]), my = d3.mean(pts, d => d[1]);
  const sxx = d3.sum(pts, d => (d[0] - mx) ** 2);
  const sxy = d3.sum(pts, d => (d[0] - mx) * (d[1] - my));
  const slope = sxy / sxx, icpt = my - slope * mx;
  const s = Math.sqrt(d3.sum(pts, d => (d[1] - icpt - slope * d[0]) ** 2) / (n - 2));
  const grid = d3.range(81).map(k => xExt[0] + (xExt[1] - xExt[0]) * k / 80);
  const fit = grid.map(v => {
    const f = icpt + slope * v;
    const se = s * Math.sqrt(1 / n + (v - mx) ** 2 / sxx);
    return [v, f, f - 1.97 * se, f + 1.97 * se];
  });
  g.append('path').attr('d', d3.area().x(d => x(d[0])).y0(d => y(d[2])).y1(d => y(d[3]))(fit))
    .attr('fill', '#999').attr('fill-opacity', 0.32);
  g.append('path').attr('d', d3.line().x(d => x(d[0])).y(d => y(d[1]))(fit))
    .attr('fill', 'none').attr('stroke', '#000').attr('stroke-width', 1.8);

  // annotation
  const ann = g.append('text').attr('x', x(xExt[0]) + 4).attr('y', y(yExt[1]) + 11.5)
    .attr('font-size', 10.5).attr('fill', '#000');
  ann.append('tspan').attr('font-style', 'italic').text('r');
  ann.append('tspan').text(` = ${rValues[i]}, 95% CI ${ciValues[i]}, BF`);
  ann.append('tspan').attr('font-size', 7.5).attr('dy', 3).text('10');
  ann.append('tspan').attr('dy', -3).text('\u00a0 = ' + bfValues[i]);
  const bb = ann.node().getBBox();
  g.insert('rect', () => ann.node()).attr('x', bb.x - 3.5).attr('y', y(yExt[1])).attr('width', bb.width + 7)
    .attr('height', 16.5).attr('rx', 2).attr('fill', '#fff').attr('stroke', '#444').attr('stroke-width', 0.8);

  // marginal densities
  const topBase = top - 2;
  const th = d3.scaleLinear().domain([0, 1]).range([0, 25]);
  g.append('path').attr('d', d3.area().curve(d3.curveMonotoneX)
      .x(d => x(d[0])).y0(topBase).y1(d => topBase - th(d[1]))(factorDensity))
    .attr('fill', '#9C27B0');

  const rBase = left + panelW + 2;
  const rw = d3.scaleLinear().domain([0, 1]).range([0, 32]);
  const dens = traitDensities[i].slice().sort((a, b) => b[0] - a[0]);
  g.append('path').attr('d', d3.area().curve(d3.curveMonotoneY)
      .y(d => y(d[0])).x0(rBase).x1(d => rBase + rw(d[1]))(dens))
    .attr('fill', traitColors[i]);
});

const xt = svg.append('text').attr('x', 692).attr('y', 1122).attr('text-anchor', 'middle')
  .attr('font-size', 20).attr('fill', '#000');
xt.append('tspan').text('Factor ');
xt.append('tspan').attr('font-style', 'italic').text('i');
</script>
</body>
</html>
